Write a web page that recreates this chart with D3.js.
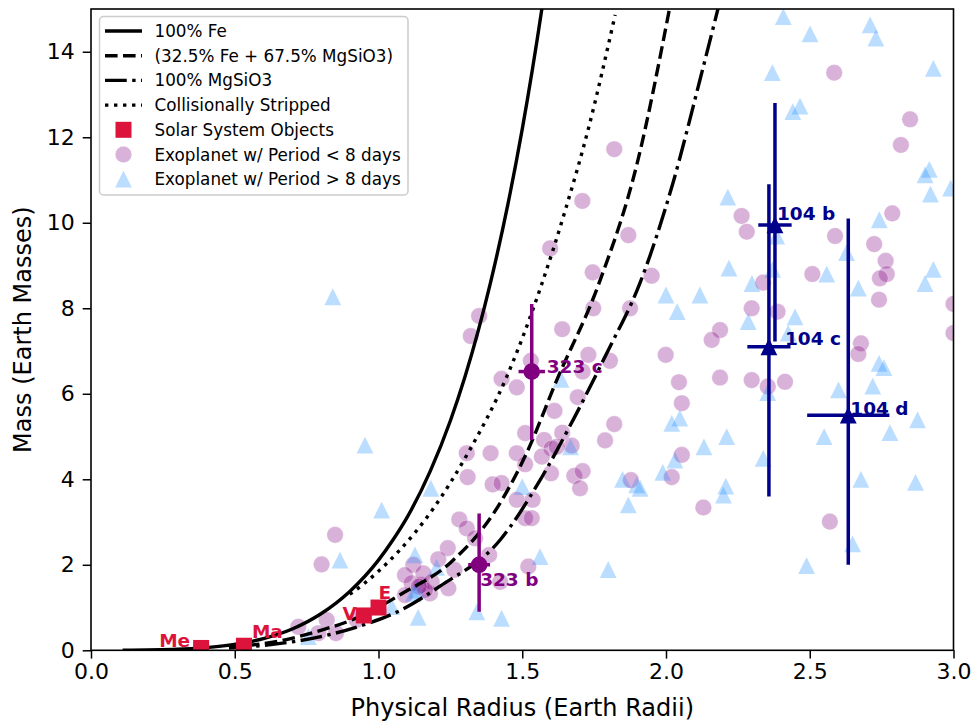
<!DOCTYPE html>
<html>
<head>
<meta charset="utf-8">
<script src="https://cdn.jsdelivr.net/npm/d3@7"></script>
<style>
  html, body { margin: 0; padding: 0; background: #fff; }
  svg text { font-family: "DejaVu Sans", sans-serif; }
</style>
</head>
<body>
<svg id="chart" width="976" height="727"></svg>
<script>
// ---- Composition models: radius (Earth radii) and mass (Earth masses) ----
const feRadius = [0.11, 0.3, 0.46, 0.6, 0.7, 0.8, 0.9, 1.0, 1.05, 1.1, 1.18, 1.25, 1.3, 1.39, 1.45, 1.5, 1.573, 1.6];
const feMass   = [0.0, 0.025, 0.103, 0.274, 0.498, 0.855, 1.377, 2.11, 2.58, 3.116, 4.19, 5.37, 6.38, 8.61, 10.43, 12.19, 15.22, 16.49];

const earthLikeRadius = [0.48, 0.55, 0.65, 0.785, 0.9, 1.0, 1.075, 1.25, 1.4, 1.515, 1.62, 1.765, 1.9, 2.012];
const earthLikeMass   = [0.07, 0.116, 0.21, 0.44, 0.69, 1.0, 1.30, 2.05, 3.2, 4.61, 6.32, 8.55, 11.4, 15.0];

const mgsio3Radius = [0.48, 0.6, 0.7, 0.843, 0.95, 1.075, 1.214, 1.423, 1.562, 1.677, 1.794, 1.91, 2.025, 2.118, 2.19];
const mgsio3Mass   = [0.05, 0.114, 0.198, 0.39, 0.6, 0.93, 1.5, 2.58, 3.98, 5.39, 6.95, 8.6, 10.95, 13.34, 15.25];

const strippedRadius = [0.9, 0.95, 1.0, 1.075, 1.19, 1.31, 1.446, 1.567, 1.65, 1.73, 1.823];
const strippedMass   = [1.31, 1.56, 1.85, 2.35, 3.31, 4.6, 6.4, 8.55, 10.3, 12.2, 14.86];

// ---- Solar system planets ----
const solarNames  = ["Me", "V", "E", "Ma"];
const solarRadius = [0.383, 0.949, 1.0, 0.532];
const solarMass   = [0.055, 0.815, 1.0, 0.107];

// ---- Known exoplanets, period < 8 days ----
const shortRadius = [2.585, 2.849, 2.817, 2.263, 2.281, 2.588, 2.787, 2.724, 2.764, 2.509, 2.768, 2.744, 2.338, 2.741, 3.0, 2.298, 2.388, 2.188, 2.159, 2.678,
  2.669, 2.045, 2.188, 2.298, 2.354, 2.414, 2.055, 2.055, 2.13, 2.570, 3.0, 1.950, 1.999, 2.020, 1.820, 1.709, 1.869, 1.597, 1.745, 1.350,
  1.321, 1.747, 1.875, 1.639, 1.730, 1.710, 1.805, 1.530, 1.428, 1.481, 1.693, 1.612, 1.820, 1.510, 1.788, 1.639, 1.576, 1.672, 1.602, 1.620,
  1.568, 1.307, 1.390, 1.481, 1.510, 1.310, 1.397, 1.428, 1.600, 1.681, 1.710, 1.701, 1.878, 1.481, 1.536, 1.510, 1.533, 1.281, 1.307, 1.336,
  1.241, 1.385, 1.264, 1.208, 1.521, 1.423, 1.243, 1.179, 1.121, 1.092, 1.150, 1.115, 0.849, 0.802, 1.156, 1.185, 1.162, 1.092, 0.721, 0.820,
  0.852, 0.791, 0.924, 1.140];
const shortMass = [13.51, 12.42, 11.82, 10.16, 9.79, 9.69, 10.22, 9.50, 9.11, 8.80, 8.80, 8.70, 8.60, 8.20, 8.1, 8.0, 7.92, 7.49, 7.26, 7.18,
  6.93, 6.27, 6.38, 6.32, 6.17, 6.28, 5.78, 4.57, 3.34, 3.01, 7.42, 8.76, 6.91, 4.05, 11.72, 10.51, 9.71, 9.40, 8.84, 7.82,
  7.35, 8.0, 8.0, 7.51, 6.91, 6.52, 6.77, 6.77, 6.35, 6.15, 5.92, 5.60, 5.29, 5.08, 4.91, 5.09, 4.92, 4.79, 4.72, 4.76,
  4.53, 4.61, 4.61, 4.61, 4.35, 4.05, 3.88, 3.91, 4.14, 4.08, 4.19, 3.79, 3.98, 3.52, 3.52, 3.09, 3.09, 3.06, 2.85, 2.62,
  2.39, 2.23, 1.88, 2.13, 1.96, 1.60, 1.45, 1.33, 2.0, 1.76, 1.53, 1.57, 2.70, 2.01, 1.80, 1.60, 1.41, 1.29, 0.55, 0.71,
  0.40, 0.40, 0.71, 1.49];

// ---- Known exoplanets, period > 8 days ----
const longRadius = [2.408, 2.501, 2.710, 2.730, 2.93, 2.370, 2.466, 2.441, 2.901, 2.916, 2.920, 2.99, 2.215, 2.742, 2.385, 2.628, 2.219, 2.559, 2.93, 2.371,
  2.299, 2.901, 2.669, 2.118, 2.286, 2.449, 2.425, 2.741, 2.758, 2.719, 2.600, 2.354, 2.875, 2.779, 2.550, 2.211, 2.132, 2.338, 2.678, 2.868,
  2.208, 2.2, 2.649, 2.489, 2.0, 2.039, 2.048, 2.02, 2.031, 1.989, 1.910, 1.635, 1.668, 1.849, 1.898, 1.869, 1.50, 1.182, 1.799, 1.562,
  1.127, 1.202, 1.121, 1.342, 1.428, 1.138, 1.011, 0.866, 1.133, 1.046, 0.756, 0.841, 0.953];
const longMass = [14.82, 14.42, 14.63, 14.32, 13.61, 13.51, 12.73, 12.60, 11.12, 11.25, 10.67, 10.81, 10.6, 10.07, 9.69, 9.30, 8.94, 8.80, 8.91, 8.91,
  8.58, 8.58, 8.47, 8.31, 7.69, 7.80, 7.42, 6.71, 6.61, 6.18, 6.09, 6.03, 5.39, 5.09, 5.0, 5.0, 4.76, 4.49, 4.0, 3.93,
  3.84, 3.63, 2.49, 1.98, 8.31, 7.92, 5.43, 5.31, 4.45, 4.16, 3.79, 6.34, 4.76, 4.0, 3.87, 3.40, 3.83, 3.79, 1.89, 2.19,
  2.23, 1.94, 1.33, 0.90, 0.75, 0.77, 3.28, 2.11, 1.41, 1.02, 0.32, 8.27, 4.80];

// ---- Highlighted planets with uncertainties ----
const namedPlanets    = ["323 b", "323 c", "104 b", "104 c", "104 d"];
const namedRadius     = [1.35, 1.533, 2.379, 2.358, 2.634];
const namedRadiusErr  = [0.038, 0.046, 0.058, 0.075, 0.143];
const namedMass       = [2.0, 6.52, 9.95, 7.10, 5.50];
const namedMassErrUp  = [1.2, 1.58, 2.85, 3.8, 4.6];
const namedMassErrLow = [1.1, 1.6, 2.73, 3.5, 3.5];

// ---- Axis ticks ----
const xTicks = [0.0, 0.5, 1.0, 1.5, 2.0, 2.5, 3.0];
const yTicks = [0, 2, 4, 6, 8, 10, 12, 14];

// ---------------------------------------------------------------
const svg = d3.select("#chart");
const plotL = 91, plotR = 953.5, plotT = 9, plotB = 650.3;
const x = d3.scaleLinear().domain([0, 3]).range([plotL, plotR]);
const y = d3.scaleLinear().domain([0, 15]).range([plotB, plotT]);

const purple = "#800080", navy = "#00008B", crimson = "#DC143C", sky = "#1E90FF";
const lineW = 3.4;
const dashes = {
  solid: null,
  dashed: [3.7, 1.6].map(v => v * lineW).join(","),
  dashdot: [6.4, 1.6, 1, 1.6].map(v => v * lineW).join(","),
  dotted: [1, 1.65].map(v => v * lineW).join(",")
};

svg.append("defs").append("clipPath").attr("id", "plotClip")
  .append("rect").attr("x", plotL).attr("y", plotT).attr("width", plotR - plotL).attr("height", plotB - plotT);

const plot = svg.append("g").attr("clip-path", "url(#plotClip)");

const triangle = s => `M0,${-s / 2}L${-s / 2},${s / 2}L${s / 2},${s / 2}Z`;

// scatter: short-period planets
plot.append("g").selectAll("circle").data(d3.range(shortRadius.length)).join("circle")
  .attr("cx", i => x(shortRadius[i])).attr("cy", i => y(shortMass[i])).attr("r", 8.3)
  .attr("fill", purple).attr("fill-opacity", 0.3)
  .attr("stroke", "#fff").attr("stroke-opacity", 0.3).attr("stroke-width", 1);

// scatter: long-period planets
plot.append("g").selectAll("path").data(d3.range(longRadius.length)).join("path")
  .attr("transform", i => `translate(${x(longRadius[i])},${y(longMass[i])})`)
  .attr("d", triangle(16.8))
  .attr("fill", sky).attr("fill-opacity", 0.3);

// model curves
const models = [
  { r: feRadius, m: feMass, dash: dashes.solid },
  { r: earthLikeRadius, m: earthLikeMass, dash: dashes.dashed },
  { r: mgsio3Radius, m: mgsio3Mass, dash: dashes.dashdot },
  { r: strippedRadius, m: strippedMass, dash: dashes.dotted }
];
const line = d3.line().x(d => x(d[0])).y(d => y(d[1])).curve(d3.curveMonotoneX);
models.forEach(md => {
  plot.append("path")
    .attr("d", line(md.r.map((r, i) => [r, md.m[i]])))
    .attr("fill", "none").attr("stroke", "#000").attr("stroke-width", lineW)
    .attr("stroke-dasharray", md.dash);
});

// solar system planets
const solarLabel = {
  "Me": { dx: -11, dy: -1, anchor: "end" },
  "V":  { dx: -7, dy: 4.5, anchor: "end" },
  "E":  { dx: 0, dy: -9, anchor: "start" },
  "Ma": { dx: 8, dy: -8, anchor: "start" }
};
plot.append("g").selectAll("rect").data(d3.range(solarNames.length)).join("rect")
  .attr("x", i => x(solarRadius[i]) - 8).attr("y", i => y(solarMass[i]) - 8)
  .attr("width", 16).attr("height", 16).attr("fill", crimson);
plot.append("g").selectAll("text").data(d3.range(solarNames.length)).join("text")
  .attr("x", i => x(solarRadius[i]) + solarLabel[solarNames[i]].dx)
  .attr("y", i => y(solarMass[i]) + solarLabel[solarNames[i]].dy)
  .attr("text-anchor", i => solarLabel[solarNames[i]].anchor)
  .attr("font-size", 18.5).attr("font-weight", "bold").attr("fill", crimson)
  .text(i => solarNames[i]);

// highlighted planets with error bars
const namedLabel = [
  { dx: 1, dy: 21.5 }, { dx: 15, dy: 1 }, { dx: 2, dy: -5 }, { dx: 16, dy: -2 }, { dx: 2, dy: -0.5 }
];
namedPlanets.forEach((name, i) => {
  const col = name.startsWith("323") ? purple : navy;
  const g = plot.append("g");
  const cx = x(namedRadius[i]), cy = y(namedMass[i]);
  g.append("line").attr("x1", cx).attr("x2", cx)
    .attr("y1", y(namedMass[i] + namedMassErrUp[i])).attr("y2", y(namedMass[i] - namedMassErrLow[i]))
    .attr("stroke", col).attr("stroke-width", 3.5);
  g.append("line").attr("y1", cy).attr("y2", cy)
    .attr("x1", x(namedRadius[i] - namedRadiusErr[i])).attr("x2", x(namedRadius[i] + namedRadiusErr[i]))
    .attr("stroke", col).attr("stroke-width", 3.5);
  if (name.startsWith("323")) {
    g.append("circle").attr("cx", cx).attr("cy", cy).attr("r", 8.3).attr("fill", col);
  } else {
    g.append("path").attr("transform", `translate(${cx},${cy})`).attr("d", triangle(16.8)).attr("fill", col);
  }
  g.append("text").attr("x", cx + namedLabel[i].dx).attr("y", cy + namedLabel[i].dy)
    .attr("font-size", 18.5).attr("font-weight", "bold").attr("fill", col).text(name);
});

// axes
const xAxis = svg.append("g").attr("transform", `translate(0,${plotB})`)
  .call(d3.axisBottom(x).tickValues(xTicks).tickFormat(d3.format(".1f")).tickSize(8.3).tickPadding(5));
const yAxis = svg.append("g").attr("transform", `translate(${plotL},0)`)
  .call(d3.axisLeft(y).tickValues(yTicks).tickFormat(d3.format("d")).tickSize(8.3).tickPadding(8));
[xAxis, yAxis].forEach(a => {
  a.select(".domain").remove();
  a.selectAll(".tick line").attr("stroke", "#000").attr("stroke-width", 1.5);
  a.selectAll(".tick text").attr("font-size", 22).attr("fill", "#000")
    .attr("font-family", '"DejaVu Sans", sans-serif');
});

// frame
svg.append("rect").attr("x", plotL).attr("y", plotT).attr("width", plotR - plotL).attr("height", plotB - plotT)
  .attr("fill", "none").attr("stroke", "#000").attr("stroke-width", 1.6);

// axis titles
svg.append("text").attr("x", (plotL + plotR) / 2).attr("y", 716).attr("text-anchor", "middle")
  .attr("font-size", 24).text("Physical Radius (Earth Radii)");
svg.append("text").attr("transform", `translate(31,${(plotT + plotB) / 2}) rotate(-90)`)
  .attr("text-anchor", "middle").attr("font-size", 24).text("Mass (Earth Masses)");

// legend
const leg = svg.append("g");
leg.append("rect").attr("x", 99.5).attr("y", 16.5).attr("width", 308.5).attr("height", 178.5).attr("rx", 4)
  .attr("fill", "#fff").attr("fill-opacity", 0.8).attr("stroke", "#cccccc").attr("stroke-width", 1.5);
const legendItems = [
  { label: "100% Fe", kind: "line", dash: dashes.solid },
  { label: "(32.5% Fe + 67.5% MgSiO3)", kind: "line", dash: dashes.dashed },
  { label: "100% MgSiO3", kind: "line", dash: dashes.dashdot },
  { label: "Collisionally Stripped", kind: "line", dash: dashes.dotted },
  { label: "Solar System Objects", kind: "square" },
  { label: "Exoplanet w/ Period < 8 days", kind: "circle" },
  { label: "Exoplanet w/ Period > 8 days", kind: "triangle" }
];
legendItems.forEach((it, i) => {
  const cy = 31 + i * 24.7;
  if (it.kind === "line") {
    leg.append("line").attr("x1", 105).attr("x2", 142).attr("y1", cy).attr("y2", cy)
      .attr("stroke", "#000").attr("stroke-width", lineW).attr("stroke-dasharray", it.dash);
  } else if (it.kind === "square") {
    leg.append("rect").attr("x", 123.5 - 8).attr("y", cy - 8).attr("width", 16).attr("height", 16).attr("fill", crimson);
  } else if (it.kind === "circle") {
    leg.append("circle").attr("cx", 123.5).attr("cy", cy).attr("r", 8.3)
      .attr("fill", purple).attr("fill-opacity", 0.3).attr("stroke", "#fff").attr("stroke-opacity", 0.3);
  } else {
    leg.append("path").attr("transform", `translate(123.5,${cy})`).attr("d", triangle(16.8))
      .attr("fill", sky).attr("fill-opacity", 0.3);
  }
  leg.append("text").attr("x", 154.5).attr("y", cy + 6).attr("font-size", 16.8).text(it.label);
});
</script>
</body>
</html>
